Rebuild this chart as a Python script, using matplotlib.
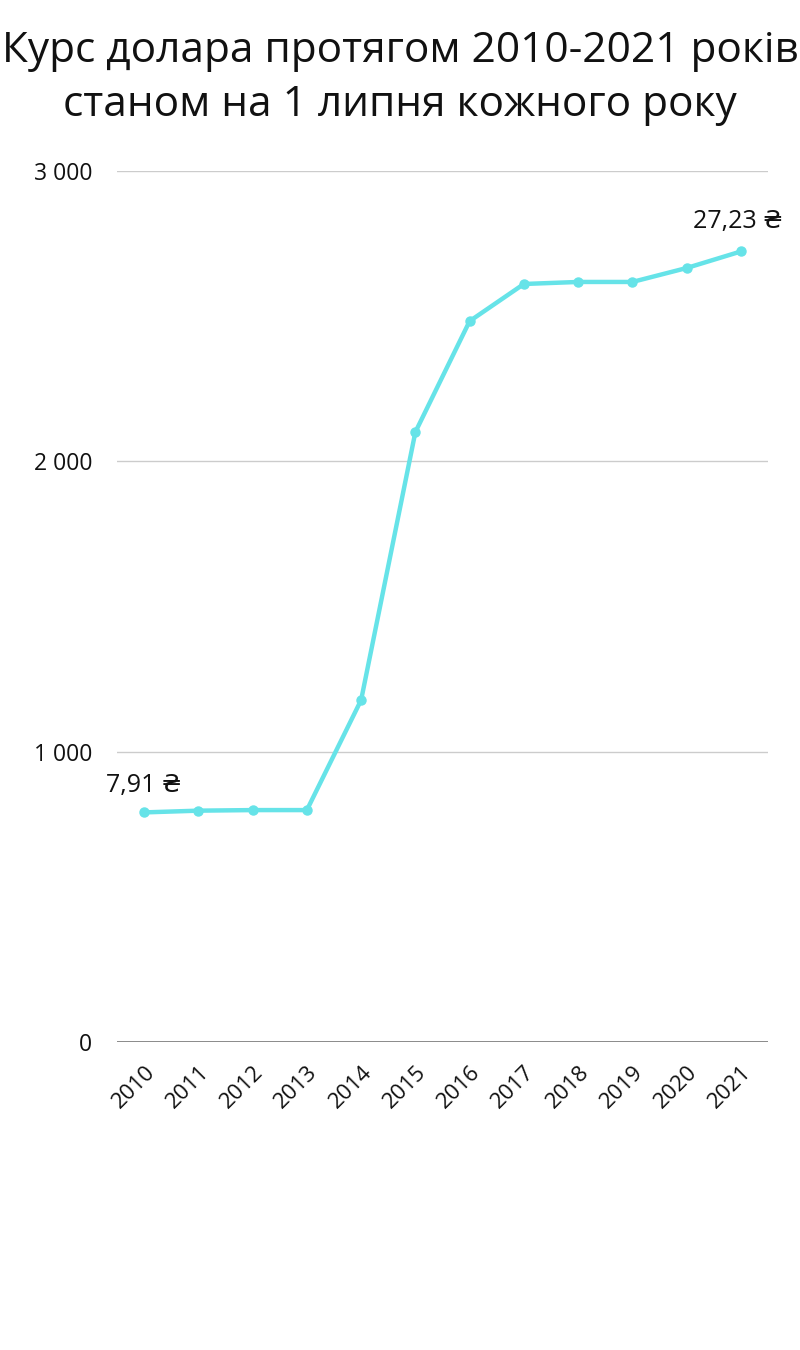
import matplotlib.pyplot as plt
from matplotlib.ticker import FuncFormatter

years = ['2010', '2011', '2012', '2013', '2014', '2015',
         '2016', '2017', '2018', '2019', '2020', '2021']
# kurs in kopecks (7,91 UAH -> 791)
rate = [791, 797, 799, 799, 1178, 2101, 2483, 2611, 2618, 2618, 2666, 2723]
y_ticks = [0, 1000, 2000, 3000]

FONT = ['Open Sans', 'DejaVu Sans']
LINE_COLOR = '#66e3e8'

plt.rcParams['font.family'] = FONT

fig = plt.figure(figsize=(8, 13.5), dpi=100)
ax = fig.add_axes([0.14625, 0.2281, 0.81375, 0.6452])

x = list(range(len(years)))
ax.plot(x, rate, color=LINE_COLOR, lw=3.2, marker='o', ms=6.5,
        solid_capstyle='round', zorder=3)

ax.set_xlim(-0.5, len(years) - 0.5)
ax.set_ylim(0, 3000)
ax.set_yticks(y_ticks)
ax.yaxis.set_major_formatter(FuncFormatter(lambda v, p: f"{int(v):,}".replace(',', ' ')))
ax.set_xticks(x)
ax.set_xticklabels(years, rotation=45, ha='right', rotation_mode='anchor')

for t in y_ticks[1:]:
    ax.axhline(t, color='#cccccc', lw=1, zorder=1)
ax.axhline(0, color='#777777', lw=1.2, zorder=2)

for s in ax.spines.values():
    s.set_visible(False)
ax.tick_params(axis='both', length=0, colors='#111111')
ax.tick_params(axis='y', pad=18, labelsize=16.5)
ax.tick_params(axis='x', pad=14, labelsize=16)

# first & last value labels
ax.annotate(f"{rate[0] / 100:.2f} ₴".replace('.', ','), (x[0], rate[0]),
            xytext=(0, 15), textcoords='offset points', ha='center',
            fontsize=18, color='#111111')
ax.annotate(f"{rate[-1] / 100:.2f} ₴".replace('.', ','), (x[-1], rate[-1]),
            xytext=(-2, 17), textcoords='offset points', ha='center',
            fontsize=18, color='#111111')

fig.text(0.5, 0.978, "Курс долара протягом 2010-2021 років\nстаном на 1 липня кожного року",
         ha='center', va='top', fontsize=30.5, linespacing=1.4, color='#111111')

fig.savefig('out.png', dpi=100, facecolor='white')
